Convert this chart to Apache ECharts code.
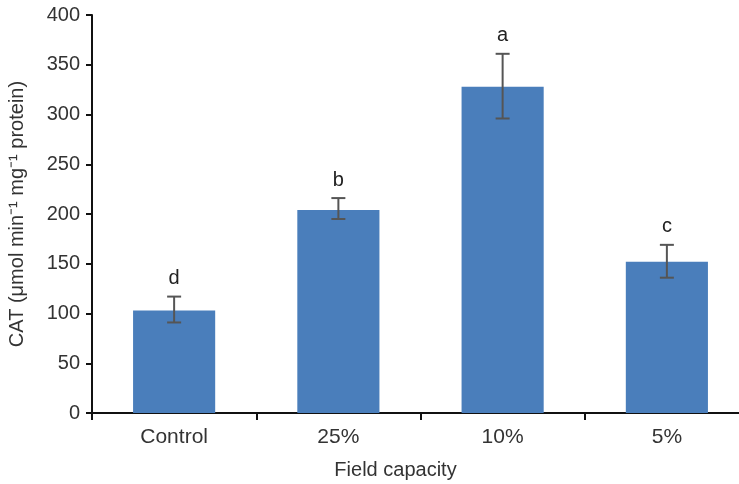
<!DOCTYPE html>
<html>
<head>
<meta charset="utf-8">
<script src="https://cdn.jsdelivr.net/npm/echarts@6/dist/echarts.min.js"></script>
<style>html,body{margin:0;padding:0;background:#fff}#c{width:739px;height:484px}</style>
</head>
<body>
<div id="c"></div>
<script>
const categories = ['Control', '25%', '10%', '5%'];
const means = [103, 204, 328, 152];
const errLow = [91, 195, 296, 136];
const errHigh = [117, 216, 361, 169];
const letters = ['d', 'b', 'a', 'c'];
const yTicks = [0, 50, 100, 150, 200, 250, 300, 350, 400];

const chart = echarts.init(document.getElementById('c'), null, {renderer: 'canvas'});
const font = 'Liberation Sans, Arial, sans-serif';
chart.setOption({
  animation: false,
  grid: {left: 92, width: 657, top: 15, height: 398, containLabel: false, outerBoundsMode: 'none'},
  xAxis: {
    type: 'category',
    data: categories,
    name: 'Field capacity',
    nameLocation: 'middle',
    nameGap: 47,
    nameTextStyle: {fontFamily: font, fontSize: 20, color: '#333', padding: [0, 50, 0, 0]},
    axisLine: {lineStyle: {color: '#111', width: 2}},
    axisTick: {show: true, length: 7, inside: false, lineStyle: {color: '#111', width: 2}},
    axisLabel: {fontFamily: font, fontSize: 21, color: '#333', margin: 14}
  },
  yAxis: {
    type: 'value',
    min: yTicks[0],
    max: yTicks[yTicks.length - 1],
    interval: 50,
    name: 'CAT (μmol min⁻¹ mg⁻¹ protein)',
    nameLocation: 'middle',
    nameGap: 65,
    nameRotate: 90,
    nameTextStyle: {fontFamily: font, fontSize: 20, color: '#333'},
    axisLine: {show: true, lineStyle: {color: '#111', width: 2}},
    axisTick: {show: true, length: 6, lineStyle: {color: '#111', width: 2}},
    splitLine: {show: false},
    axisLabel: {fontFamily: font, fontSize: 20, color: '#333', margin: 12}
  },
  series: [
    {
      type: 'bar',
      data: means,
      barWidth: '50%',
      itemStyle: {color: '#4a7ebb'},
      z: 2
    },
    {
      type: 'custom',
      z: 5,
      data: categories.map((c, i) => [i, errLow[i], errHigh[i], letters[i]]),
      renderItem: function (params, api) {
        const i = api.value(0);
        const lo = api.coord([i, api.value(1)]);
        const hi = api.coord([i, api.value(2)]);
        const cap = 7;
        const st = {stroke: '#555', lineWidth: 2};
        return {
          type: 'group',
          children: [
            {type: 'line', shape: {x1: lo[0], y1: lo[1], x2: hi[0], y2: hi[1]}, style: st},
            {type: 'line', shape: {x1: hi[0] - cap, y1: hi[1], x2: hi[0] + cap, y2: hi[1]}, style: st},
            {type: 'line', shape: {x1: lo[0] - cap, y1: lo[1], x2: lo[0] + cap, y2: lo[1]}, style: st},
            {type: 'text', x: hi[0], y: hi[1] - 8, style: {
              text: letters[i], fill: '#222', font: '20px ' + font,
              textAlign: 'center', textVerticalAlign: 'bottom'}}
          ]
        };
      }
    }
  ]
});
</script>
</body>
</html>
